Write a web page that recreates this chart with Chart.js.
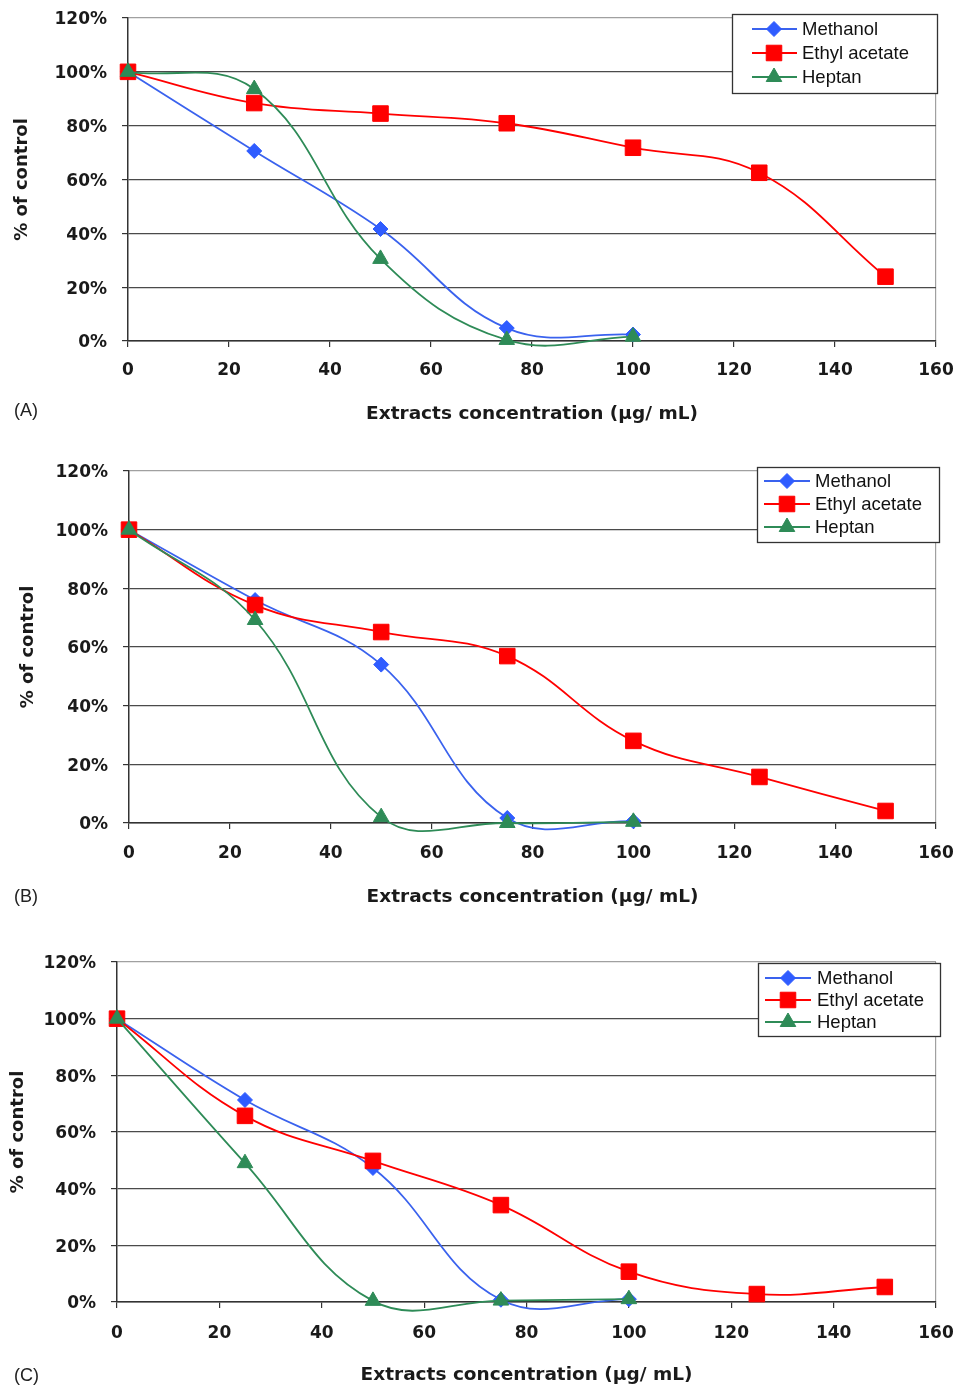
<!DOCTYPE html>
<html><head><meta charset="utf-8">
<script src="https://cdn.jsdelivr.net/npm/chart.js@4.4.0/dist/chart.umd.min.js"></script>
<style>
html,body{margin:0;padding:0;background:#fff;width:956px;height:1389px;overflow:hidden;}
.panel{position:absolute;left:0;width:956px;}
.panel canvas{display:block;}
.tag{position:absolute;left:14px;font:18px "Liberation Sans",Arial,Helvetica,sans-serif;color:#222;line-height:22px;}
</style></head><body>
<div class="panel" style="top:0px;height:430px"><canvas id="cA" width="956" height="430"></canvas></div>
<div class="panel" style="top:440px;height:470px"><canvas id="cB" width="956" height="470"></canvas></div>
<div class="panel" style="top:930px;height:459px"><canvas id="cC" width="956" height="459"></canvas></div>
<div class="tag" style="top:399px">(A)</div>
<div class="tag" style="top:885px">(B)</div>
<div class="tag" style="top:1364px">(C)</div>
<script>
// ---- data ----
const concentrations = [0, 25, 50, 75, 100, 125, 150];
const seriesNames = ['Methanol', 'Ethyl acetate', 'Heptan'];
const xAxisTitle = 'Extracts concentration (\u00b5g/ mL)';
const yAxisTitle = '% of control';

const methanolA = [100, 70.6, 41.6, 4.8, 2.4];
const ethylA    = [100, 88.4, 84.5, 80.9, 71.8, 62.5, 23.9];
const heptanA   = [100, 93.6, 30.5, 0.4, 1.6];

const methanolB = [100, 76, 54, 1.7, 0.6];
const ethylB    = [100, 74.3, 65.1, 56.9, 28, 15.7, 4.1];
const heptanB   = [100, 69.2, 2, 0, 0.4];

const methanolC = [100, 71.3, 47.3, 0.8, 1];
const ethylC    = [100, 65.7, 49.8, 34.2, 10.7, 2.8, 5.3];
const heptanC   = [100, 49, 0.4, 0.5, 1];

// ---- styles ----
const FONT = '"Liberation Sans", Arial, Helvetica, sans-serif';
const BOLDFONT = '"DejaVu Sans", "Liberation Sans", Arial, sans-serif';
const styles = [
  {line:'#3a62ee', fill:'#2f5cff', point:'rectRot', r:7.5, order:3},
  {line:'#ff0000', fill:'#ff0000', point:'rect', r:11, order:2},
  {line:'#2e8b57', fill:'#2e8b57', point:'triangle', r:9, order:1}
];

function drawMarker(ctx, style, r, x, y){
  if (Chart.helpers && Chart.helpers.drawPoint){
    Chart.helpers.drawPoint(ctx, {pointStyle:style, radius:r, borderWidth:1, rotation:0}, x, y);
    return;
  }
  ctx.beginPath();
  if (style === 'rect'){ const s = r*Math.SQRT1_2; ctx.rect(x-s, y-s, 2*s, 2*s); }
  else if (style === 'rectRot'){ ctx.moveTo(x, y-r); ctx.lineTo(x+r, y); ctx.lineTo(x, y+r); ctx.lineTo(x-r, y); ctx.closePath(); }
  else { ctx.moveTo(x, y-r); ctx.lineTo(x+r*0.866, y+r/2); ctx.lineTo(x-r*0.866, y+r/2); ctx.closePath(); }
  ctx.fill(); ctx.stroke();
}

const boxLegend = {
  id:'boxLegend',
  afterDatasetsDraw(chart, args, L){
    const ctx = chart.ctx, ca = chart.chartArea;
    const x0 = ca.right + L.dRight - L.w, y0 = ca.top + L.dTop;
    ctx.save();
    ctx.fillStyle = '#fff';
    ctx.fillRect(x0, y0, L.w, L.h);
    ctx.strokeStyle = '#333'; ctx.lineWidth = 1.3;
    ctx.strokeRect(x0 + 0.5, y0 + 0.5, L.w, L.h);
    chart.data.datasets.forEach((ds, i) => {
      const y = y0 + L.row0 + i * L.gap;
      ctx.strokeStyle = ds.borderColor; ctx.lineWidth = ds.borderWidth;
      ctx.beginPath(); ctx.moveTo(x0 + L.line0, y); ctx.lineTo(x0 + L.line1, y); ctx.stroke();
      ctx.fillStyle = ds.pointBackgroundColor; ctx.strokeStyle = ds.pointBorderColor; ctx.lineWidth = 1;
      drawMarker(ctx, ds.pointStyle, ds.pointRadius, x0 + L.mark, y);
      ctx.fillStyle = '#111';
      ctx.font = '18.5px ' + FONT;
      ctx.textBaseline = 'middle'; ctx.textAlign = 'left';
      ctx.fillText(ds.label, x0 + L.text, y + 1);
    });
    ctx.restore();
  }
};

function makeChart(id, cfg, seriesValues){
  const datasets = seriesValues.map((vals, i) => ({
    label: seriesNames[i],
    data: vals.map((v, j) => ({x: concentrations[j], y: v})),
    borderColor: styles[i].line,
    backgroundColor: styles[i].fill,
    pointBackgroundColor: styles[i].fill,
    pointBorderColor: styles[i].fill,
    pointBorderWidth: 1,
    pointStyle: styles[i].point,
    pointRadius: styles[i].r,
    borderWidth: 1.8,
    tension: 0.4,
    fill: false,
    clip: false,
    order: styles[i].order
  }));
  const tickFont = {family: BOLDFONT, size: 17, weight: 'bold'};
  const options = {
    responsive: false,
    animation: false,
    events: [],
    elements: {line: {capBezierPoints: false}},
    layout: {autoPadding: false, padding: {left: 0, right: 956 - cfg.plotRight, top: cfg.plotTop, bottom: 0}},
    plugins: {legend: {display: false}, tooltip: {enabled: false}, boxLegend: cfg.legend},
    scales: {
      x: {
        type: 'linear', min: 0, max: 160,
        ticks: {stepSize: 20, font: tickFont, color: '#1a1a1a', padding: cfg.xTickPad, maxRotation: 0, autoSkip: false},
        grid: {
          drawOnChartArea: true, tickLength: 6,
          color: c => (c.tick && c.tick.value === 160) ? '#a0a0a0' : 'rgba(0,0,0,0)',
          tickColor: '#333', lineWidth: 1.2
        },
        border: {color: '#333', width: 1.5},
        title: {display: true, text: xAxisTitle, color: '#1a1a1a',
                font: {family: BOLDFONT, size: 18.5, weight: 'bold'},
                padding: {top: 0, bottom: cfg.height - cfg.xTitleY - 11.1}},
        afterFit(s){ s.height = cfg.height - cfg.plotBottom; s.paddingLeft = 0; s.paddingRight = 0; }
      },
      y: {
        min: 0, max: 120,
        ticks: {stepSize: 20, font: tickFont, color: '#1a1a1a', padding: 15, labelOffset: 2, callback: v => v + '%'},
        grid: {
          tickLength: 6, lineWidth: 1.2,
          color: c => (c.tick && c.tick.value === 120) ? '#a0a0a0' : '#4a4a4a',
          tickColor: '#333'
        },
        border: {color: '#333', width: 1.5},
        title: {display: true, text: yAxisTitle, color: '#1a1a1a',
                font: {family: BOLDFONT, size: 18, weight: 'bold'},
                padding: {top: cfg.yTitleX - 10.8, bottom: 0}},
        afterFit(s){ s.width = cfg.plotLeft; s.paddingTop = 0; s.paddingBottom = 0; }
      }
    }
  };
  const ch = new Chart(document.getElementById(id), {type: 'line', data: {datasets}, plugins: [boxLegend], options});
  // nudge layout padding so the plot area lands where the reference has it
  for (let k = 0; k < 2; k++) {
    const ca = ch.chartArea;
    const p = ch.config.options.layout.padding;
    const dl = cfg.plotLeft - ca.left, dr = ca.right - cfg.plotRight, dt = cfg.plotTop - ca.top;
    if (Math.abs(dl) + Math.abs(dr) + Math.abs(dt) < 0.5) break;
    ch.config.options.layout.padding = {left: p.left + dl, right: p.right + dr, top: p.top + dt, bottom: p.bottom};
    ch.update();
  }
  return ch;
}

const layoutA = {height: 430, plotLeft: 128, plotRight: 936, plotTop: 18, plotBottom: 341, xTitleY: 414, yTitleX: 22, xTickPad: 13,
  legend: {dRight: 1, dTop: -4, w: 205, h: 79, row0: 15, gap: 24, line0: 20, line1: 65, mark: 42, text: 70}};
const layoutB = {height: 470, plotLeft: 129, plotRight: 936, plotTop: 31, plotBottom: 383, xTitleY: 457, yTitleX: 28, xTickPad: 14,
  legend: {dRight: 3, dTop: -4, w: 182, h: 75, row0: 14, gap: 23, line0: 7, line1: 53, mark: 30, text: 58}};
const layoutC = {height: 459, plotLeft: 117, plotRight: 936, plotTop: 32, plotBottom: 372, xTitleY: 445, yTitleX: 18, xTickPad: 15,
  legend: {dRight: 4, dTop: 1, w: 182, h: 73, row0: 15, gap: 22, line0: 7, line1: 53, mark: 30, text: 59}};

makeChart('cA', layoutA, [methanolA, ethylA, heptanA]);
makeChart('cB', layoutB, [methanolB, ethylB, heptanB]);
makeChart('cC', layoutC, [methanolC, ethylC, heptanC]);
</script>
</body></html>
